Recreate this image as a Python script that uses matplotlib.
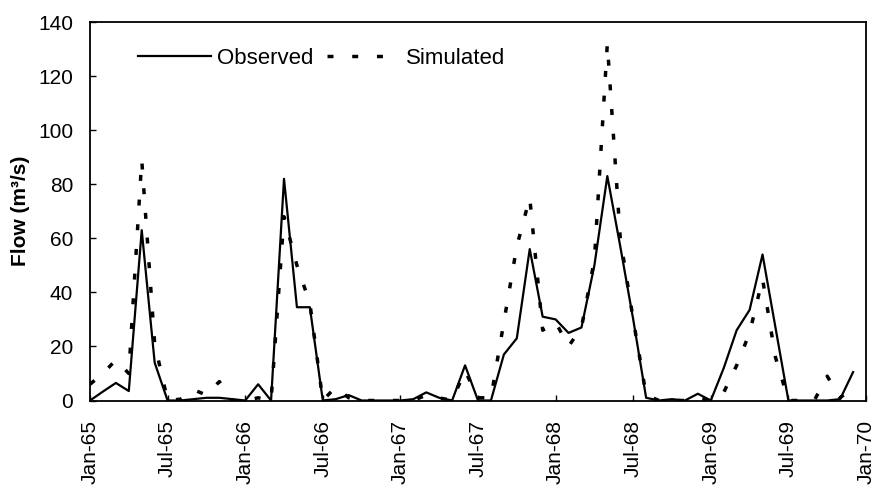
import matplotlib
matplotlib.use("Agg")
import matplotlib.pyplot as plt
import numpy as np

plt.rcParams['font.family'] = ['Liberation Sans', 'DejaVu Sans']
plt.rcParams['lines.scale_dashes'] = False

# Monthly flows, Jan-1965 .. Dec-1969 (m^3/s)
observed = [0, 3.3, 6.5, 3.5, 63, 14, 0, 0, 0.5, 1, 1, 0.5,
            0, 6, 0, 82, 34.5, 34.5, 0, 0.5, 2, 0, 0, 0,
            0, 0.5, 3, 1, 0, 13, 0, 0, 17, 23, 56, 31,
            30, 25, 27, 50, 83, 57, 30, 1, 0, 0.5, 0, 2.5,
            0, 12, 26, 33.5, 54, 27, 0, 0, 0, 0, 0.5, 10.5]
simulated = [6, 10, 15, 10, 89, 21, 0, 0.5, 4, 2, 7, 0,
             0, 1, 0, 68, 50, 36, 0, 5, 1, 0, 0, 0,
             0, 0, 2, 1, 0, 11, 1, 1, 29, 57, 75, 26,
             29, 20, 27, 52, 132, 60, 30, 2, 0, 0, 0, 1,
             0, 3, 13, 25, 45, 16, 0, 0, 0, 9, 1, 5]
tick_labels = ["Jan-65", "Jul-65", "Jan-66", "Jul-66", "Jan-67", "Jul-67",
               "Jan-68", "Jul-68", "Jan-69", "Jul-69", "Jan-70"]

months = np.arange(len(observed))

fig = plt.figure(figsize=(8.84, 4.88), dpi=100)
ax = fig.add_axes([90/884, 87.5/488, 776/884, 378.5/488])

ax.plot(months, observed, color='black', lw=1.6, label='Observed')
ax.plot(months, simulated, color='black', lw=2.5, dashes=(4.3, 13.5),
        label='Simulated')

ax.set_xlim(0, 60)
ax.set_ylim(0, 140)
ax.set_xticks(np.arange(0, 61, 6))
ax.set_xticklabels(tick_labels, rotation=90, fontsize=15)
ax.set_yticks(np.arange(0, 141, 20))
ax.tick_params(axis='y', labelsize=15, pad=12)
ax.tick_params(axis='x', pad=14)
ax.tick_params(direction='in', length=4, width=1)
for s in ax.spines.values():
    s.set_linewidth(1.3)
    s.set_color('black')

ax.set_ylabel('Flow (m³/s)', fontsize=15, fontweight='bold', labelpad=6)

leg = ax.legend(loc='center left', bbox_to_anchor=((138-90)/776, (400.5-58)/378.5),
                ncol=2, frameon=False, fontsize=16, borderpad=0,
                handlelength=3.3, handletextpad=0.25, columnspacing=0.6,
                borderaxespad=0)

fig.savefig('out.png', dpi=100)
